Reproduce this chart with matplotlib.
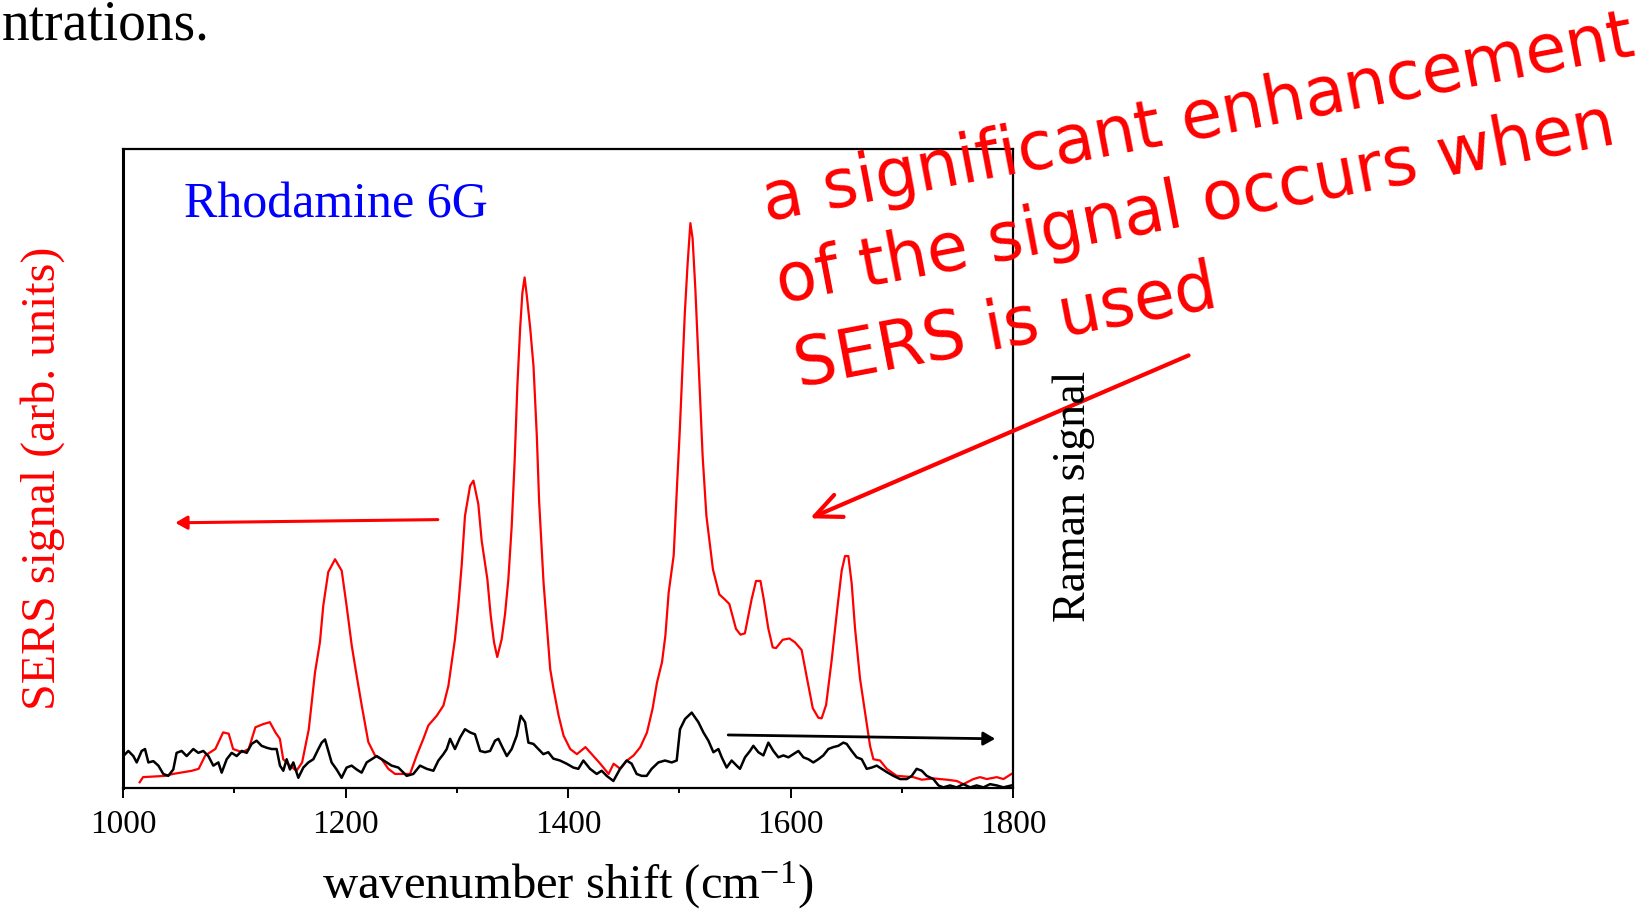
import numpy as np
import matplotlib
matplotlib.use('Agg')
import matplotlib.pyplot as plt
from matplotlib.ticker import MultipleLocator

plt.rcParams['font.family'] = ['Liberation Serif', 'DejaVu Serif']
plt.rcParams['mathtext.fontset'] = 'custom'
plt.rcParams['mathtext.rm'] = 'Liberation Serif'
plt.rcParams['mathtext.it'] = 'Liberation Serif:italic'

# SERS spectrum (red), arb. units 0..100
wn_sers = [1015, 1018, 1038, 1045, 1062, 1068, 1074, 1083, 1090, 1095, 1099, 1107, 1113, 1119,
           1126, 1132, 1137, 1141, 1144, 1150, 1156, 1161, 1167, 1172.6, 1177, 1180, 1184.5, 1190.6,
           1196.6, 1201, 1205.6, 1210, 1214.6, 1220.5, 1226.5, 1232.5, 1238.5, 1244.5, 1258, 1264,
           1270, 1274.5, 1282, 1288, 1292.5, 1295.5, 1298.4, 1301.4, 1304.4, 1307.4, 1312, 1315,
           1319.4, 1322.4, 1327.5, 1330.5, 1333.5, 1336.4, 1340.4, 1343.4, 1346.4, 1349.4, 1352,
           1354.5, 1357, 1359, 1361, 1363, 1366, 1369, 1372, 1374, 1378, 1381, 1384, 1387, 1391.6,
           1396, 1402, 1408, 1415.7, 1421.3, 1429, 1436.5, 1441, 1447, 1453, 1459, 1465, 1471, 1476,
           1480, 1484.5, 1487.5, 1490.5, 1495, 1498, 1500.5, 1503, 1505, 1507.5, 1510, 1512, 1514.5,
           1518.4, 1521, 1524.4, 1530.3, 1536, 1541, 1545, 1551, 1555, 1559, 1565, 1569, 1573, 1576,
           1580, 1584, 1587, 1593, 1599, 1604, 1610, 1615, 1620, 1625, 1628, 1632, 1637, 1642, 1646,
           1649, 1652, 1655, 1658, 1662.5, 1667, 1671.5, 1674.5, 1680.5, 1686.5, 1695.5, 1710.4, 1718,
           1728.4, 1740.4, 1749.4, 1755.4, 1764.4, 1770.4, 1776.4, 1785.4, 1791.4, 1798.6]
sers = [0.9, 1.7, 1.9, 2.2, 2.7, 3.0, 5.1, 6.1, 8.7, 8.5, 6.1, 5.6, 6.1, 9.5,
        10.0, 10.3, 8.7, 7.7, 4.5, 3.5, 2.7, 4.0, 9.2, 18.1, 22.8, 28.5, 33.8, 35.8,
        34.0, 28.5, 22.3, 17.6, 12.9, 7.2, 5.1, 4.5, 3.0, 2.2, 2.2, 5.1,
        7.7, 9.8, 11.3, 12.9, 16.0, 19.7, 23.3, 28.5, 34.8, 42.6, 47.3, 48.1,
        44.4, 38.7, 32.7, 27.0, 22.8, 20.5, 23.3, 27.2, 32.7, 41.0, 51.0,
        63.0, 72.0, 77.5, 79.9, 77.0, 72.0, 66.0, 55.0, 45.0, 32.2, 25.4, 18.6, 15.5, 11.3,
        8.2, 6.1, 5.3, 6.4, 5.3, 3.8, 2.2, 3.8, 3.0, 4.3, 5.1, 6.4, 8.7, 12.4,
        16.5, 19.7, 23.8, 30.6, 36.4, 47.3, 56.0, 66.0, 74.3, 82.0, 88.4, 86.0, 78.0,
        62.4, 52.0, 42.6, 34.2, 30.3, 29.5, 28.8, 24.9, 24.0, 24.2, 29.5, 32.4, 32.4, 29.5,
        25.0, 22.0, 21.9, 23.2, 23.4, 22.8, 21.6, 17.0, 12.5, 11.0, 10.9, 13.0, 20.0, 28.0, 34.0,
        36.3, 36.3, 32.0, 25.0, 17.1, 11.8, 6.6, 4.5, 4.3, 3.0, 1.9, 1.7, 1.3,
        1.5, 1.3, 1.1, 0.6, 1.4, 1.7, 1.4, 1.7, 1.4, 2.2]

# normal Raman spectrum (black)
wn_raman = [1000.3, 1004.8, 1009.3, 1012.3, 1016.8, 1019.8, 1022.8, 1027.3, 1031.8, 1036.2, 1040.7,
            1045.2, 1048.2, 1052.7, 1057.2, 1063.2, 1067.7, 1072.2, 1076.7, 1081.2, 1085.7, 1088.7,
            1093.2, 1097.7, 1102.2, 1106.7, 1111.2, 1115.6, 1120.1, 1124.6, 1129.1, 1133.6, 1138.1,
            1141.1, 1144.1, 1147.1, 1150.1, 1153.1, 1157.6, 1162.1, 1166.6, 1171.1, 1175.6, 1178.6,
            1181.6, 1184.5, 1187.5, 1192.0, 1196.5, 1201.0, 1205.5, 1210.0, 1214.5, 1219.0, 1223.5,
            1228.0, 1232.5, 1237.0, 1241.5, 1247.5, 1255, 1261, 1267, 1273, 1279, 1283.5, 1288, 1291,
            1294, 1298.4, 1303, 1307.4, 1312, 1316.4, 1321, 1325.4, 1330, 1334.4, 1337.4, 1340.4,
            1345, 1349.4, 1353.9, 1357.5, 1361.4, 1364.4, 1368.9, 1373.3, 1377.8, 1382.3, 1386.8,
            1392.8, 1398.8, 1404.8, 1409.3, 1413.8, 1419.8, 1425.8, 1430.3, 1434.8, 1440.8, 1446.8,
            1452.7, 1457.2, 1461.7, 1466.2, 1470.7, 1475.2, 1481.2, 1487.2, 1493.2, 1497.7, 1500.7,
            1505.2, 1511.2, 1517.2, 1521.7, 1526.2, 1530.7, 1535.2, 1538.2, 1542.6, 1547.1, 1551.6,
            1554.6, 1559.1, 1563.6, 1566.6, 1571.1, 1575.6, 1580.1, 1584.6, 1589.1, 1593.6, 1598.1,
            1602.6, 1607.1, 1611.6, 1616.1, 1620.5, 1625, 1629.5, 1634, 1638.5, 1643, 1647.5, 1650.5,
            1655, 1659.5, 1664, 1668.5, 1673, 1677.5, 1682, 1686.5, 1692.5, 1698.5, 1704.5, 1709,
            1713.4, 1718, 1722.4, 1728.4, 1733, 1737.4, 1743.4, 1749.4, 1755.4, 1761.4, 1767.4,
            1773.4, 1779.4, 1785.4, 1791.4, 1798.6]
raman = [5.0, 5.8, 5.0, 4.0, 5.8, 6.1, 4.0, 4.2, 3.5, 2.2, 1.9,
         2.9, 5.5, 5.8, 5.0, 6.1, 5.5, 5.8, 5.0, 3.5, 4.0, 2.4,
         4.5, 5.5, 5.0, 5.8, 5.5, 6.9, 7.4, 6.6, 6.3, 6.1, 6.1,
         3.5, 2.7, 4.5, 2.9, 4.0, 1.6, 3.2, 4.0, 4.5, 6.1, 7.1,
         7.6, 5.8, 4.0, 2.9, 1.6, 3.2, 3.5, 2.9, 2.4, 4.0, 4.5,
         5.0, 4.5, 4.0, 3.5, 3.2, 1.9, 2.2, 3.5, 3.0, 2.7, 4.3, 5.3, 6.1,
         7.7, 6.1, 7.9, 9.2, 8.7, 8.4, 5.8, 5.6, 5.8, 7.4, 7.7, 6.6,
         5.0, 6.1, 8.2, 11.3, 10.3, 7.1, 6.9, 6.1, 5.3, 5.6, 4.6,
         4.3, 3.8, 3.2, 3.0, 4.3, 3.0, 2.2, 2.7, 1.9, 1.1, 3.0,
         4.3, 3.8, 2.2, 1.9, 1.9, 3.0, 4.0, 4.3, 4.0, 4.3, 9.2,
         10.8, 11.8, 10.3, 8.7, 7.4, 5.6, 6.1, 4.8, 3.2, 4.3, 3.5,
         3.0, 4.8, 5.8, 6.6, 5.6, 5.1, 7.1, 5.8, 4.8, 5.1, 4.8,
         5.3, 5.8, 4.8, 4.5, 4.0, 4.5, 5.1, 6.1, 6.4, 6.6, 7.1, 6.9,
         5.8, 4.8, 4.5, 3.0, 3.2, 3.5, 3.0, 2.5, 1.9, 1.4, 1.4, 1.9,
         3.0, 2.7, 1.9, 1.4, 0.4, 0.1, 0.4, 0.1, 0.6, 0.1, 0.4,
         0.1, 0.6, 0.4, 0.1, 0.4]

note_lines = ['a significant enhancement', 'of the signal occurs when', 'SERS is used']

W, H = 1645, 912
fig = plt.figure(figsize=(W / 100, H / 100), dpi=100)
ax = fig.add_axes([123 / W, 1 - 789 / H, 890 / W, 639 / H])

ax.plot(wn_sers, sers, color='#ff0000', lw=1.6)
ax.plot(wn_raman, raman, color='black', lw=1.8)

ax.set_xlim(1000, 1800)
ax.set_ylim(0, 100)
ax.xaxis.set_major_locator(MultipleLocator(200))
ax.xaxis.set_minor_locator(MultipleLocator(100))
ax.tick_params(axis='x', which='major', direction='out', length=7, width=1.4, labelsize=24, pad=8)
ax.tick_params(axis='x', which='minor', direction='out', length=3.5, width=1.4)
ax.tick_params(axis='y', left=False, labelleft=False)
for s in ax.spines.values():
    s.set_linewidth(1.6)
ax.spines['left'].set_linewidth(2.2)

ax.text(0.0685, 0.895, 'Rhodamine 6G', transform=ax.transAxes, color='#0000ff',
        fontsize=36, va='baseline', ha='left')

# arrows pointing to the axis each curve belongs to
ax.annotate('', xy=(1047, 41.5), xytext=(1283, 42.0),
            arrowprops=dict(arrowstyle='-|>,head_length=0.35,head_width=0.2', color='#ff0000',
                            lw=2.2, mutation_scale=20, shrinkA=0, shrinkB=0),
            annotation_clip=False)
ax.annotate('', xy=(1784, 7.7), xytext=(1544, 8.3),
            arrowprops=dict(arrowstyle='-|>,head_length=0.35,head_width=0.2', color='black',
                            lw=2.0, mutation_scale=20, shrinkA=0, shrinkB=0),
            annotation_clip=False)
ax.annotate('', xy=(1617.5, 42.2), xytext=(1957.8, 67.7),
            arrowprops=dict(arrowstyle='->,head_length=0.95,head_width=0.43', color='#ff0000',
                            lw=3.0, mutation_scale=20, shrinkA=0, shrinkB=0),
            annotation_clip=False)

# labels
fig.text(568 / W, 1 - 899 / H, 'wavenumber shift (cm$^{-1}$)', fontsize=35,
         ha='center', va='baseline')
fig.text(43 / W, 1 - 478 / H, 'SERS signal (arb. units)', fontsize=34.5, color='#ff0000',
         rotation=90, ha='center', va='center')
fig.text(1074 / W, 1 - 496 / H, 'Raman signal', fontsize=33, color='black',
         rotation=90, ha='center', va='center')
fig.text(0.001, 1 - 40 / H, 'ntrations.', fontsize=40, ha='left', va='baseline')

# handwritten note
note_xy = [(766, 221), (780, 303), (799, 387)]
for line, (px, py) in zip(note_lines, note_xy):
    fig.text(px / W, 1 - py / H, line, fontsize=48, color='#ff0000',
             family='DejaVu Sans', rotation=10.8, rotation_mode='anchor',
             ha='left', va='baseline')

fig.savefig('out.png', dpi=100)
